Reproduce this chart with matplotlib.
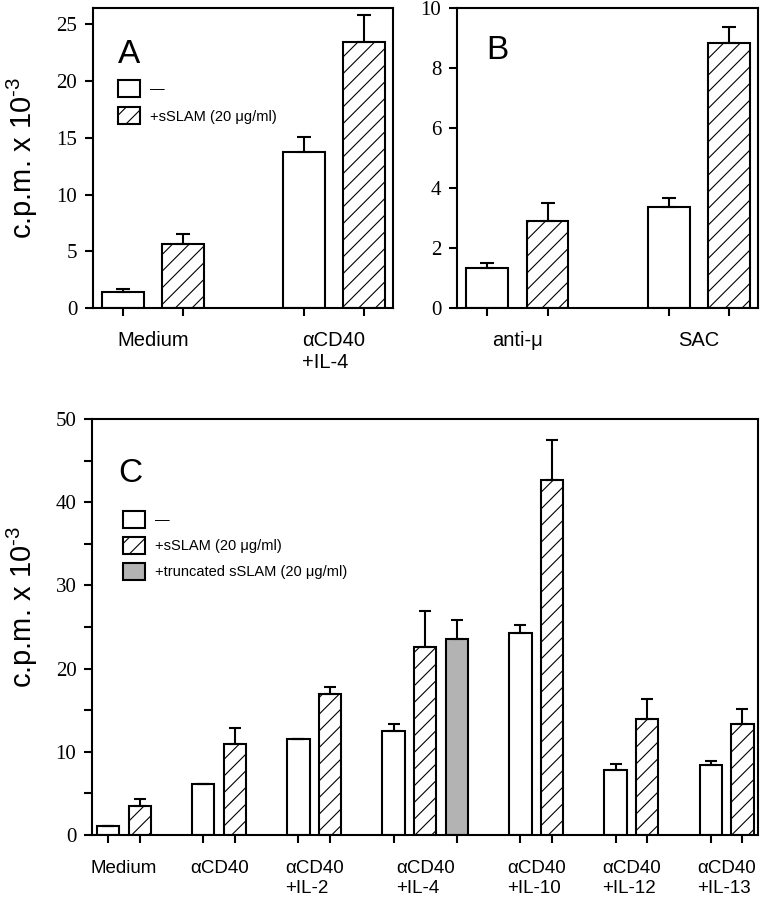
import matplotlib
matplotlib.use("Agg")
import matplotlib.pyplot as plt
from matplotlib.patches import Patch

plt.rcParams["font.family"] = ["Liberation Sans", "DejaVu Sans"]
plt.rcParams["mathtext.fontset"] = "custom"
plt.rcParams["mathtext.rm"] = "Liberation Sans"
plt.rcParams["hatch.linewidth"] = 0.8

# panel A
a_groups = ["Medium", "\u03b1CD40\n+IL-4"]
a_ctrl = [1.46, 13.7]
a_ctrl_err = [0.24, 1.4]
a_slam = [5.66, 23.44]
a_slam_err = [0.85, 2.32]

# panel B
b_groups = ["anti-\u03bc", "SAC"]
b_ctrl = [1.35, 3.39]
b_ctrl_err = [0.15, 0.3]
b_slam = [2.92, 8.85]
b_slam_err = [0.58, 0.54]

# panel C
c_groups = ["Medium", "\u03b1CD40", "\u03b1CD40\n+IL-2", "\u03b1CD40\n+IL-4",
            "\u03b1CD40\n+IL-10", "\u03b1CD40\n+IL-12", "\u03b1CD40\n+IL-13"]
c_ctrl = [1.12, 6.13, 11.6, 12.5, 24.3, 7.81, 8.41]
c_ctrl_err = [0, 0, 0, 0.8, 0.94, 0.72, 0.52]
c_slam = [3.52, 10.9, 16.95, 22.6, 42.67, 13.9, 13.3]
c_slam_err = [0.77, 2.0, 0.85, 4.36, 4.83, 2.4, 1.84]
c_trunc = [None, None, None, 23.6, None, None, None]
c_trunc_err = [None, None, None, 2.24, None, None, None]

lab_ctrl = "\u2014"
lab_slam = "+sSLAM (20 \u03bcg/ml)"
lab_trunc = "+truncated sSLAM (20 \u03bcg/ml)"
ylab = r"c.p.m. x 10$^{\text{-3}}$"

style_ctrl = dict(facecolor="white", edgecolor="black", linewidth=1.5)
style_slam = dict(facecolor="white", edgecolor="black", linewidth=1.5, hatch="//")
style_trunc = dict(facecolor="#b3b3b3", edgecolor="black", linewidth=1.5)


def draw_panel(ax, groups, series, width, capsize, labelsize, pad):
    pos = 0
    centers = []
    bar_x = []
    xs = [[] for _ in series]
    for g in range(len(groups)):
        present = [i for i, s in enumerate(series) if s[0][g] is not None]
        for i in present:
            xs[i].append((pos, g))
            bar_x.append(pos)
            pos += 1
        centers.append(pos - (len(present) + 1) / 2)
        pos += 1

    for (vals, errs, style), pts in zip(series, xs):
        x = [p for p, _ in pts]
        v = [vals[g] for _, g in pts]
        e = [errs[g] for _, g in pts]
        ax.bar(x, v, width, zorder=2, **style)
        ax.errorbar(x, v, yerr=[[0] * len(e), e], fmt="none", ecolor="black",
                    elinewidth=1.5, capsize=capsize, capthick=1.5, zorder=3)

    ax.set_xticks(centers)
    ax.set_xticklabels(groups, fontsize=labelsize)
    for lbl in ax.get_xticklabels():
        lbl.set_multialignment("left")
    ax.set_xticks(bar_x, minor=True)
    ax.tick_params(axis="x", which="major", length=0, pad=pad)
    ax.tick_params(axis="x", which="minor", direction="out", length=6, width=1.5)
    ax.tick_params(axis="y", which="both", direction="out", length=6, width=1.5,
                   pad=5, labelsize=15)
    for sp in ax.spines.values():
        sp.set_linewidth(1.5)


def serif_yticks(ax):
    for lbl in ax.get_yticklabels():
        lbl.set_fontfamily("Liberation Serif")


fig = plt.figure(figsize=(7.66, 9), dpi=100)

# A
ax = fig.add_axes([0.1208, 0.6574, 0.3923, 0.3337])
draw_panel(ax, a_groups, [(a_ctrl, a_ctrl_err, style_ctrl), (a_slam, a_slam_err, style_slam)],
           0.69, 5, 14.5, 16)
ax.set_xlim(-0.5, 4.48)
ax.set_ylim(0, 26.4)
ax.set_yticks(range(0, 26, 5))
serif_yticks(ax)
ax.set_ylabel(ylab, fontsize=21)
ax.yaxis.set_label_coords(-0.175, 0.5)
ax.text(0.085, 0.817, "A", transform=ax.transAxes, fontsize=24)
handles = [Patch(label=lab_ctrl, **style_ctrl), Patch(label=lab_slam, **style_slam)]
ax.legend(handles=handles, loc="upper left", bbox_to_anchor=(0.085, 0.76), frameon=False,
          fontsize=10.5, borderpad=0, borderaxespad=0, handlelength=1.5, handleheight=1.43,
          labelspacing=0.68, handletextpad=0.7)

# B
ax = fig.add_axes([0.5962, 0.6574, 0.3937, 0.3333])
draw_panel(ax, b_groups, [(b_ctrl, b_ctrl_err, style_ctrl), (b_slam, b_slam_err, style_slam)],
           0.69, 5, 14.5, 16)
ax.set_xlim(-0.5, 4.48)
ax.set_ylim(0, 10)
ax.set_yticks(range(0, 11, 2))
serif_yticks(ax)
ax.text(0.097, 0.831, "B", transform=ax.transAxes, fontsize=24)

# C
ax = fig.add_axes([0.1197, 0.0722, 0.8702, 0.4622])
draw_panel(ax, c_groups, [(c_ctrl, c_ctrl_err, style_ctrl), (c_slam, c_slam_err, style_slam),
                          (c_trunc, c_trunc_err, style_trunc)],
           0.7, 4.3, 13.5, 18)
ax.set_xlim(-0.52, 20.5)
ax.set_ylim(0, 50)
ax.set_yticks(range(0, 51, 10))
ax.set_yticks(range(5, 50, 10), minor=True)
serif_yticks(ax)
ax.set_ylabel(ylab, fontsize=21)
ax.yaxis.set_label_coords(-0.0775, 0.548)
ax.text(0.0395, 0.849, "C", transform=ax.transAxes, fontsize=24)
handles = [Patch(label=lab_ctrl, **style_ctrl), Patch(label=lab_slam, **style_slam),
           Patch(label=lab_trunc, **style_trunc)]
ax.legend(handles=handles, loc="upper left", bbox_to_anchor=(0.0465, 0.779), frameon=False,
          fontsize=10.5, borderpad=0, borderaxespad=0, handlelength=1.5, handleheight=1.43,
          labelspacing=0.6, handletextpad=0.7)

fig.savefig("out.png", dpi=100)
